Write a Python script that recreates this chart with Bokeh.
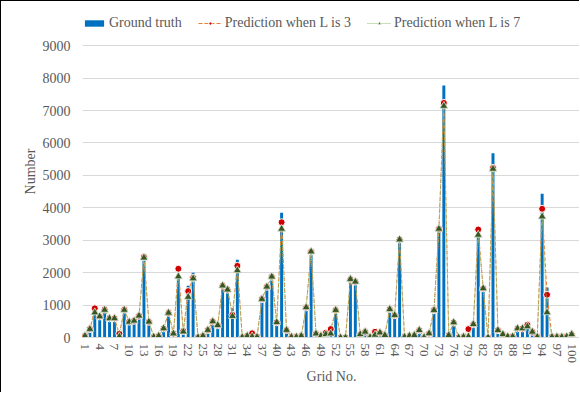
from bokeh.plotting import figure
from bokeh.models import Range1d, FixedTicker, Legend, LegendItem
from bokeh.embed import file_html
from bokeh.resources import INLINE

grid = list(range(1, 101))
ground_truth = [60, 270, 780, 650, 850, 590, 590, 40, 860, 490,
                520, 670, 2460, 490, 20, 50, 280, 760, 120, 1950,
                180, 1600, 2000, 10, 50, 230, 495, 380, 1600, 1475,
                900, 2400, 10, 50, 20, 20, 1185, 1565, 1875, 470,
                3845, 230, 20, 20, 50, 930, 2650, 120, 50, 100,
                150, 850, 0, 0, 1850, 1720, 100, 175, 10, 80,
                150, 70, 875, 690, 3020, 20, 50, 70, 225, 10,
                125, 845, 3350, 7770, 70, 465, 0, 20, 100, 410,
                3250, 1515, 0, 5680, 225, 100, 30, 30, 280, 280,
                360, 175, 20, 4430, 1545, 20, 20, 20, 30, 100]
pred_l3 = [50, 260, 900, 650, 860, 590, 590, 120, 860, 490,
           515, 670, 2480, 485, 20, 50, 280, 760, 120, 2120,
           200, 1430, 1840, 10, 50, 230, 495, 380, 1600, 1475,
           700, 2210, 10, 50, 130, 20, 1185, 1565, 1875, 470,
           3555, 230, 20, 20, 50, 930, 2650, 120, 50, 150,
           260, 850, 0, 0, 1800, 1720, 100, 175, 10, 175,
           150, 70, 875, 690, 3020, 20, 50, 70, 225, 10,
           125, 845, 3350, 7235, 70, 465, 0, 20, 260, 410,
           3330, 1515, 0, 5230, 225, 100, 30, 30, 280, 280,
           390, 175, 20, 3970, 1320, 20, 20, 20, 30, 100]
pred_l7 = [50, 260, 770, 650, 850, 590, 590, 30, 850, 480,
           515, 670, 2460, 485, 20, 50, 280, 760, 120, 1880,
           180, 1250, 1820, 10, 50, 230, 495, 380, 1600, 1475,
           660, 2070, 10, 50, 30, 20, 1185, 1565, 1875, 470,
           3350, 230, 20, 20, 50, 930, 2650, 120, 50, 100,
           120, 845, 0, 0, 1800, 1720, 100, 175, 10, 80,
           150, 70, 875, 690, 3020, 20, 50, 70, 225, 10,
           125, 845, 3350, 7140, 70, 465, 0, 20, 30, 410,
           3165, 1515, 0, 5200, 225, 100, 30, 30, 280, 280,
           340, 175, 20, 3730, 775, 20, 20, 20, 30, 100]
x_ticks = list(range(1, 101, 3))
y_ticks = list(range(0, 9001, 1000))

FONT = "Liberation Serif"
TXT = "#595959"

# frame spans page y 5..337; 9000 sits at y~45, leaving headroom for the legend
p = figure(width=579, height=392, output_backend="svg", toolbar_location=None,
           x_range=Range1d(0.5, 101.8), y_range=Range1d(0, 10240),
           min_border_left=81, min_border_right=0, min_border_top=4,
           min_border_bottom=56)
p.outline_line_color = None
p.styles = {"border-left": "1px solid #000000", "border-top": "1px solid #000000"}

bars = p.vbar(x=grid, top=ground_truth, width=0.6, fill_color="#0070C0", line_color=None)
l3_line = p.line(grid, pred_l3, line_color="#ED7D31", line_width=1, line_dash="4 2")
l3_pts = p.scatter(grid, pred_l3, marker="circle", size=7, fill_color="#D00000",
                   line_color="white", line_width=1)
l7_line = p.line(grid, pred_l7, line_color="#8DBF6A", line_width=1, line_dash="1 1")
l7_pts = p.scatter(grid, pred_l7, marker="triangle", size=8, fill_color="#375623",
                   line_color="#DDE8D0", line_width=0.8)

legend = Legend(items=[
    LegendItem(label="Ground truth", renderers=[bars]),
    LegendItem(label="Prediction when L is 3", renderers=[l3_line, l3_pts]),
    LegendItem(label="Prediction when L is 7", renderers=[l7_line, l7_pts]),
], orientation="horizontal", location=(0, 306), padding=0, margin=0, spacing=16,
    label_standoff=3, glyph_width=24, glyph_height=8, label_height=16,
    border_line_color=None, background_fill_alpha=0,
    label_text_font=FONT, label_text_font_size="14px", label_text_color=TXT)
p.add_layout(legend, "center")

p.xgrid.grid_line_color = None
p.ygrid.grid_line_color = "#D9D9D9"
p.ygrid.ticker = FixedTicker(ticks=y_ticks)

p.xaxis.ticker = FixedTicker(ticks=x_ticks)
p.xaxis.major_label_orientation = "vertical"
p.xaxis.axis_line_color = "#D9D9D9"
p.xaxis.major_label_standoff = 6
p.xaxis.axis_label = "Grid No."
p.xaxis.axis_label_standoff = 3

p.yaxis.ticker = FixedTicker(ticks=y_ticks)
p.yaxis.axis_line_color = None
p.yaxis.major_label_standoff = 12
p.yaxis.axis_label = "Number"
p.yaxis.axis_label_standoff = 2

for ax in (p.xaxis[0], p.yaxis[0]):
    ax.major_tick_line_color = None
    ax.minor_tick_line_color = None
    ax.major_tick_out = 0
    ax.major_tick_in = 0
    ax.minor_tick_out = 0
    ax.major_label_text_font = FONT
    ax.major_label_text_font_size = "14px"
    ax.major_label_text_color = TXT
    ax.axis_label_text_font = FONT
    ax.axis_label_text_font_size = "14px"
    ax.axis_label_text_font_style = "normal"
    ax.axis_label_text_color = TXT
p.xaxis.major_label_text_font_size = "13px"

open("out.html", "w").write(file_html(p, INLINE))
